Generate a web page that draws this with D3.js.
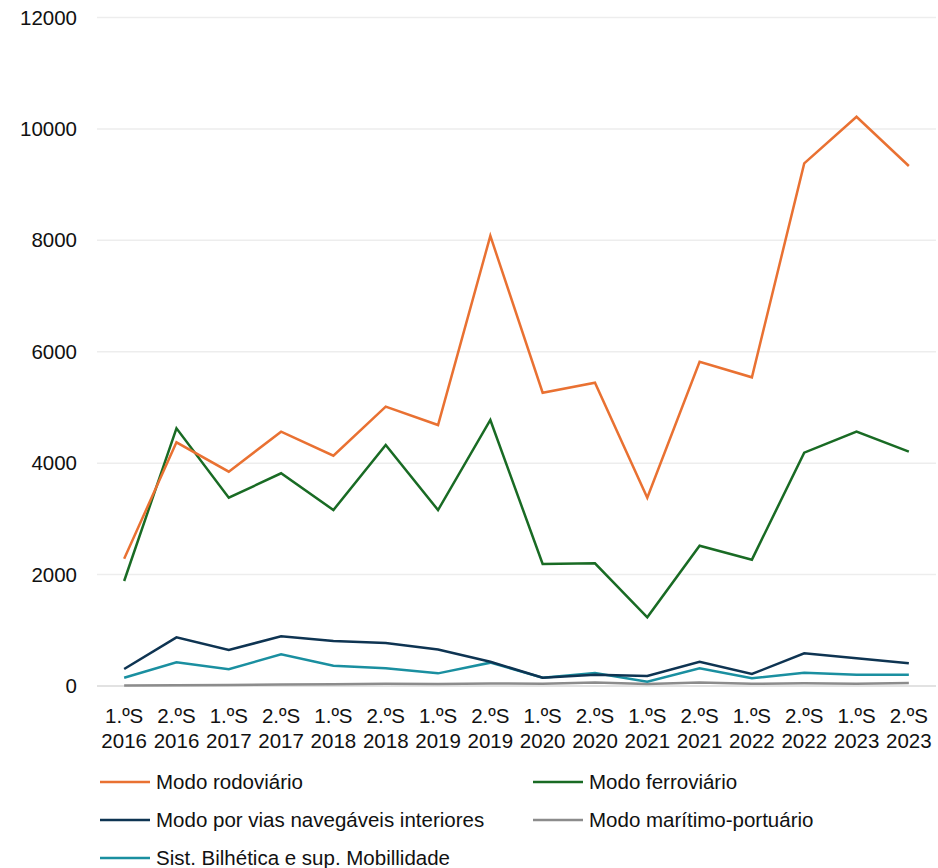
<!DOCTYPE html>
<html>
<head>
<meta charset="utf-8">
<script src="https://cdn.jsdelivr.net/npm/d3@7"></script>
<style>
  html, body { margin: 0; padding: 0; background: #ffffff; }
  svg { display: block; font-family: "Liberation Sans", Arial, sans-serif; }
</style>
</head>
<body>
<svg id="chart" width="938" height="868"></svg>
<script>
// Semesters (two-line tick labels: semester / year)
const semesters = ["1.ºS", "2.ºS", "1.ºS", "2.ºS", "1.ºS", "2.ºS", "1.ºS", "2.ºS",
                   "1.ºS", "2.ºS", "1.ºS", "2.ºS", "1.ºS", "2.ºS", "1.ºS", "2.ºS"];
const years = ["2016", "2016", "2017", "2017", "2018", "2018", "2019", "2019",
               "2020", "2020", "2021", "2021", "2022", "2022", "2023", "2023"];
const categories = semesters.map((s, i) => s + " " + years[i]);

const yTicks = [0, 2000, 4000, 6000, 8000, 10000, 12000];

// Series values per semester
const rodoviario   = [2285, 4374, 3847, 4565, 4134, 5014, 4685, 8080, 5265, 5444, 3380, 5821, 5541, 9382, 10219, 9334];
const ferroviario  = [1885, 4626, 3380, 3818, 3159, 4326, 3159, 4775, 2190, 2202, 1233, 2519, 2268, 4188, 4565, 4206];
const navegaveis   = [305, 874, 646, 892, 808, 772, 655, 436, 149, 203, 180, 436, 215, 587, 497, 407];
const maritimo     = [8, 15, 18, 25, 30, 40, 35, 45, 40, 65, 35, 65, 40, 50, 40, 55];
const bilhetica    = [149, 425, 300, 569, 364, 317, 227, 419, 149, 233, 78, 317, 138, 239, 203, 203];

const seriesNames = ["Modo rodoviário", "Modo ferroviário", "Modo por vias navegáveis interiores",
                     "Modo marítimo-portuário", "Sist. Bilhética e sup. Mobillidade"];
const seriesColors = ["#E97132", "#196B24", "#0E3452", "#8C8C8C", "#1A8FA0"];
const seriesValues = [rodoviario, ferroviario, navegaveis, maritimo, bilhetica];

const svg = d3.select("#chart");
const textColor = "#111111";
const fontFamily = "\"Liberation Sans\", Arial, sans-serif";

const x = d3.scaleBand().domain(categories).range([98, 935]);
const y = d3.scaleLinear().domain([0, 12000]).range([686, 17.5]);
const cx = c => x(c) + x.bandwidth() / 2;

// Horizontal gridlines
svg.append("g")
  .selectAll("line")
  .data(yTicks.filter(t => t > 0))
  .join("line")
  .attr("x1", 97).attr("x2", 936)
  .attr("y1", d => y(d)).attr("y2", d => y(d))
  .attr("stroke", "#EDEDED").attr("stroke-width", 1.5);

// Category baseline
svg.append("line")
  .attr("x1", 97).attr("x2", 936)
  .attr("y1", y(0)).attr("y2", y(0))
  .attr("stroke", "#D9D9D9").attr("stroke-width", 1.5);

// Y axis labels
const yAxis = d3.axisLeft(y).tickValues(yTicks).tickSize(0).tickPadding(0)
  .tickFormat(d3.format("d"));
svg.append("g")
  .attr("transform", "translate(77,0)")
  .call(yAxis)
  .call(g => g.select(".domain").remove())
  .call(g => g.selectAll("text")
    .attr("fill", textColor)
    .attr("font-size", 20.5)
    .attr("font-family", fontFamily));

// X axis labels (two lines)
const xAxis = d3.axisBottom(x).tickSize(0).tickFormat(() => "");
const xg = svg.append("g")
  .attr("transform", `translate(0,${y(0)})`)
  .call(xAxis)
  .call(g => g.select(".domain").remove());
xg.selectAll(".tick").each(function(d, i) {
  const t = d3.select(this).select("text")
    .attr("fill", textColor)
    .attr("font-size", 20.5)
    .attr("font-family", fontFamily)
    .attr("text-anchor", "middle")
    .attr("y", 0).attr("dy", null);
  t.append("tspan").attr("x", 0).attr("y", 37).text(semesters[i]);
  t.append("tspan").attr("x", 0).attr("y", 62).text(years[i]);
});

// Lines
const line = d3.line()
  .x((d, i) => cx(categories[i]))
  .y(d => y(d));

const drawOrder = [3, 4, 2, 1, 0];
svg.append("g")
  .selectAll("path")
  .data(drawOrder)
  .join("path")
  .attr("d", k => line(seriesValues[k]))
  .attr("fill", "none")
  .attr("stroke", k => seriesColors[k])
  .attr("stroke-width", 2.5)
  .attr("stroke-linejoin", "miter")
  .attr("stroke-linecap", "butt");

// Legend
const legendPos = [
  { x: 100, y: 782 }, { x: 533, y: 782 },
  { x: 100, y: 820 }, { x: 533, y: 820 },
  { x: 100, y: 858 }
];
const lg = svg.append("g")
  .selectAll("g")
  .data(seriesNames)
  .join("g")
  .attr("transform", (d, i) => `translate(${legendPos[i].x},${legendPos[i].y})`);
lg.append("line")
  .attr("x1", 0).attr("x2", 50).attr("y1", 0).attr("y2", 0)
  .attr("stroke", (d, i) => seriesColors[i]).attr("stroke-width", 2.5);
lg.append("text")
  .attr("x", 56).attr("y", 0).attr("dy", "0.35em")
  .attr("fill", textColor)
  .attr("font-size", 20.5)
  .attr("font-family", fontFamily)
  .text(d => d);
</script>
</body>
</html>
